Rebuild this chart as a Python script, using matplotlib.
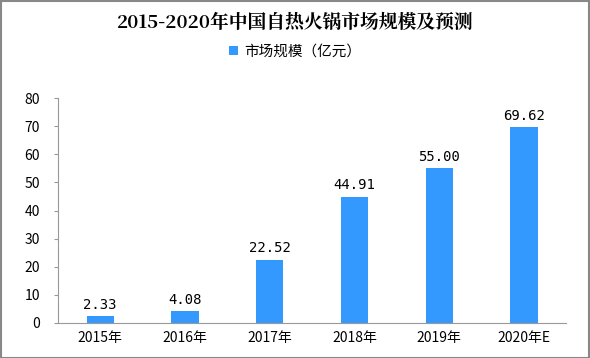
import matplotlib.pyplot as plt
from matplotlib.patches import Rectangle

plt.rcParams['font.family'] = ['Noto Sans CJK SC', 'DejaVu Sans']

# data
years = ['2015年', '2016年', '2017年', '2018年', '2019年', '2020年E']
market_size = [2.33, 4.08, 22.52, 44.91, 55.00, 69.62]
yticks = [0, 10, 20, 30, 40, 50, 60, 70, 80]

fig = plt.figure(figsize=(5.9, 3.58), dpi=100)
ax = fig.add_axes([0.098, 0.098, 0.862, 0.628])

x = range(len(years))
bars = ax.bar(x, market_size, width=0.32, color='#3399ff', label='市场规模（亿元）')
for xi, v in zip(x, market_size):
    ax.text(xi, v + 1.5, f'{v:.2f}', ha='center', va='bottom', fontsize=10,
            family=['DejaVu Sans Mono'])

ax.set_xlim(-0.5, len(years) - 0.5)
ax.set_ylim(0, 80)
ax.set_yticks(yticks)
ax.set_xticks(list(x))
ax.set_xticklabels(years, fontsize=10)
ax.tick_params(axis='y', labelsize=10, length=3, color='#999999', pad=10)
ax.tick_params(axis='x', length=0, pad=6)
for s in ['top', 'right']:
    ax.spines[s].set_visible(False)
for s in ['left', 'bottom']:
    ax.spines[s].set_color('#999999')

fig.text(0.5, 0.935, '2015-2020年中国自热火锅市场规模及预测', ha='center', va='center',
         fontsize=13.5, fontweight='bold', family=['Noto Serif CJK SC', 'Noto Sans CJK SC', 'DejaVu Serif'])
ax.legend(loc='center', frameon=False, fontsize=10.5, handlelength=0.6, handleheight=0.6,
          handletextpad=0.4, bbox_to_anchor=(0.5, 0.855), bbox_transform=fig.transFigure)

fig.patches.append(Rectangle((0.001, 0.001), 0.997, 0.997, transform=fig.transFigure,
                             fill=False, edgecolor='#888888', linewidth=1.5))

fig.savefig('out.png', dpi=100)
